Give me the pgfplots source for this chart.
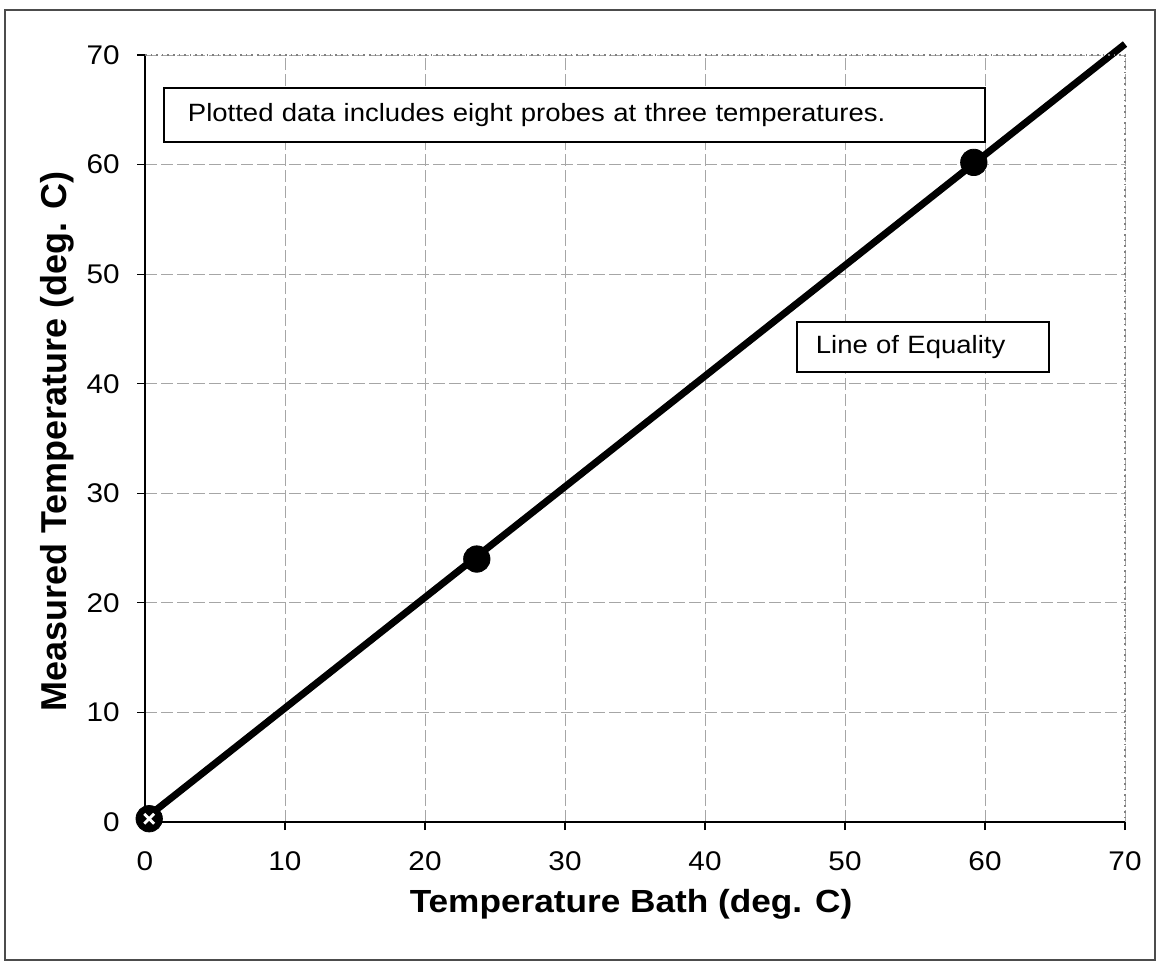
\documentclass[border=0pt]{standalone}
\usepackage{fontspec}
\setmainfont{Liberation Sans}
\newfontfamily\wide{Liberation Sans}[FakeStretch=1.1]
\usepackage{pgfplots}
\pgfplotsset{compat=1.18}

\begin{document}
\begin{tikzpicture}
\begin{axis}[
    scale only axis,
    width=490pt, height=383.5pt,
    xmin=0, xmax=70, ymin=0, ymax=70,
    xtick={0,10,...,70}, ytick={0,10,...,70},
    axis x line*=bottom, axis y line*=left,
    axis line style={black, line width=0.8pt},
    grid=major,
    major grid style={gray!70, line width=0.5pt, dash pattern=on 6pt off 2pt},
    tick align=outside, major tick length=4pt,
    tick style={black, line width=0.6pt},
    /pgf/number format/assume math mode=true,
    ticklabel style={font=\wide\fontsize{13.5}{15}\selectfont},
    yticklabel style={anchor=east, inner sep=0pt, xshift=-8.5pt},
    xticklabel style={anchor=north, inner sep=0pt, yshift=-10.5pt},
    xlabel={\wide\fontsize{16}{18}\selectfont\bfseries Temperature Bath (deg. C)},
    ylabel={\fontsize{18}{20}\selectfont\bfseries Measured Temperature (deg. C)},
    xlabel style={at={(axis description cs:0.496,-0.1186)}, anchor=base},
    ylabel style={at={(axis description cs:-0.0806,0.496)}, anchor=base},
    clip=false,
]
% line of equality
\addplot[black, line width=3.5pt, mark=none] coordinates {(0,0.3) (70,71)};
% measured points
\addplot[only marks, mark=*, mark size=6.6pt, black] coordinates {
    (0.3,0.3) (23.7,24.0) (59.2,60.2)};
\addplot[only marks, mark=x, mark size=3.5pt, white, line width=1.4pt] coordinates {(0.3,0.3)};

\draw[gray, dotted, line width=0.8pt] (rel axis cs:0,1) -- (rel axis cs:1,1) -- (rel axis cs:1,0);

\node[draw=black, line width=0.9pt, anchor=west, fill=white,
      inner xsep=12pt, text width=386.5pt, minimum height=27pt, align=left,
      font=\wide\fontsize{12.5}{14}\selectfont]
  at (axis cs:1.29,64.5) {Plotted data includes eight probes at three temperatures.};
\node[draw=black, line width=0.9pt, anchor=west, fill=white,
      inner xsep=9.5pt, text width=107pt, minimum height=25pt, align=left,
      font=\wide\fontsize{12.5}{14}\selectfont]
  at (axis cs:46.5,43.35) {Line of Equality};

\coordinate (O) at (rel axis cs:0,0);
\end{axis}
\draw[line width=0.8pt, gray!60!black] ([shift={(-70pt,-69pt)}]O) rectangle ([shift={(505pt,406pt)}]O);
\path[use as bounding box] ([shift={(-72.5pt,-72pt)}]O) rectangle ([shift={(507pt,411pt)}]O);
\end{tikzpicture}
\end{document}
